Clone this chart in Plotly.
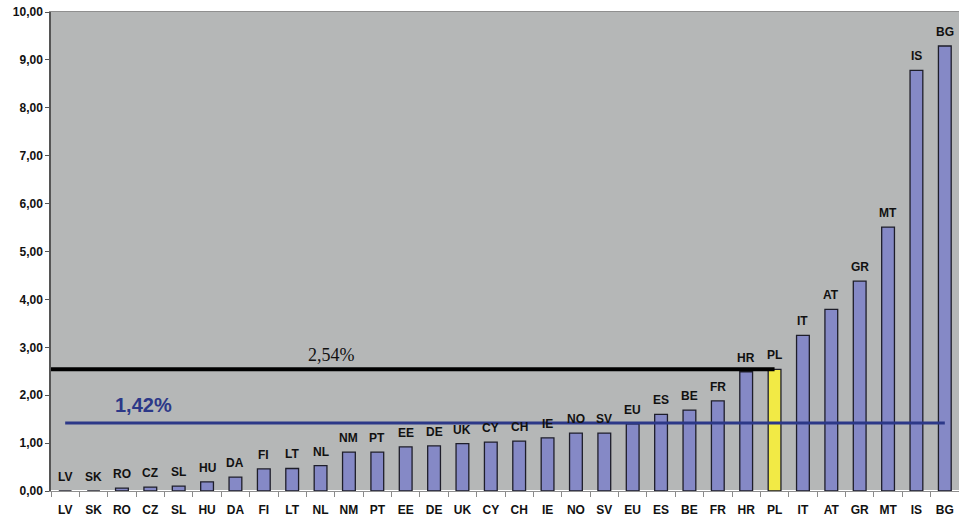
import plotly.graph_objects as go

countries = ["LV", "SK", "RO", "CZ", "SL", "HU", "DA", "FI", "LT", "NL", "NM", "PT",
             "EE", "DE", "UK", "CY", "CH", "IE", "NO", "SV", "EU", "ES", "BE", "FR",
             "HR", "PL", "IT", "AT", "GR", "MT", "IS", "BG"]
values = [0.0, 0.0, 0.06, 0.08, 0.10, 0.19, 0.29, 0.46, 0.47, 0.53, 0.81, 0.81,
          0.92, 0.94, 0.99, 1.02, 1.04, 1.11, 1.21, 1.21, 1.40, 1.60, 1.69, 1.88,
          2.49, 2.54, 3.25, 3.79, 4.38, 5.51, 8.78, 9.29]
highlight = "PL"
pl_level = 2.54
eu_level = 1.42
pl_label = "2,54%"
eu_label = "1,42%"
y_ticks = [0, 1, 2, 3, 4, 5, 6, 7, 8, 9, 10]

bar_colors = ["#f2ea45" if c == highlight else "#8589c6" for c in countries]

fig = go.Figure()
fig.add_trace(go.Bar(
    x=countries, y=values,
    marker=dict(color=bar_colors, line=dict(color="#1e1e2a", width=1.3)),
    width=0.45,
    hoverinfo="x+y",
))

for c, v in zip(countries, values):
    fig.add_annotation(x=c, y=v, xref="x", yref="y", text=c, showarrow=False,
                       yanchor="bottom", yshift=5,
                       font=dict(family="Liberation Sans, Arial", size=12, color="#111111", weight="bold"))

pl_idx = countries.index(highlight)
fig.add_shape(type="line", xref="x", yref="y", x0=-0.6, x1=pl_idx, y0=pl_level, y1=pl_level,
              line=dict(color="#000000", width=4))
fig.add_shape(type="line", xref="x", yref="y", x0=0, x1=len(countries) - 1, y0=eu_level, y1=eu_level,
              line=dict(color="#2c3888", width=3))

fig.add_annotation(x=9.4, y=pl_level, yshift=14, xref="x", yref="y", text=pl_label, showarrow=False,
                   font=dict(family="Liberation Serif, Times New Roman", size=18, color="#111111"))
fig.add_annotation(x=2.75, y=eu_level, yshift=18, xref="x", yref="y", text=eu_label,
                   showarrow=False,
                   font=dict(family="Liberation Sans, Arial", size=20, color="#2c3888", weight="bold"))

fig.update_layout(
    width=959, height=520,
    margin=dict(l=51, r=0, t=12, b=29),
    paper_bgcolor="#ffffff", plot_bgcolor="#b5b7b7",
    separators=", ",
    showlegend=False,
    font=dict(family="Liberation Sans, Arial", size=11, color="#111111"),
)
fig.update_xaxes(
    type="category", showgrid=False, showline=True, linecolor="#8f8f8f", linewidth=1.2,
    mirror=True, ticks="outside", tickson="boundaries", ticklen=5, tickcolor="#8a8a8a",
    tickfont=dict(family="Liberation Sans, Arial", size=12, color="#111111", weight="bold"),
    ticklabelstandoff=7,
    range=[-0.5, len(countries) - 0.5],
)
fig.update_yaxes(
    range=[0, 10], tickvals=y_ticks, tickformat=".2f", showgrid=False,
    showline=True, linecolor="#555555", linewidth=1.5,
    ticks="outside", ticklen=4, tickcolor="#555555",
    tickfont=dict(family="Liberation Sans, Arial", size=12, color="#111111", weight="bold"),
)

fig.write_html("out.html")
